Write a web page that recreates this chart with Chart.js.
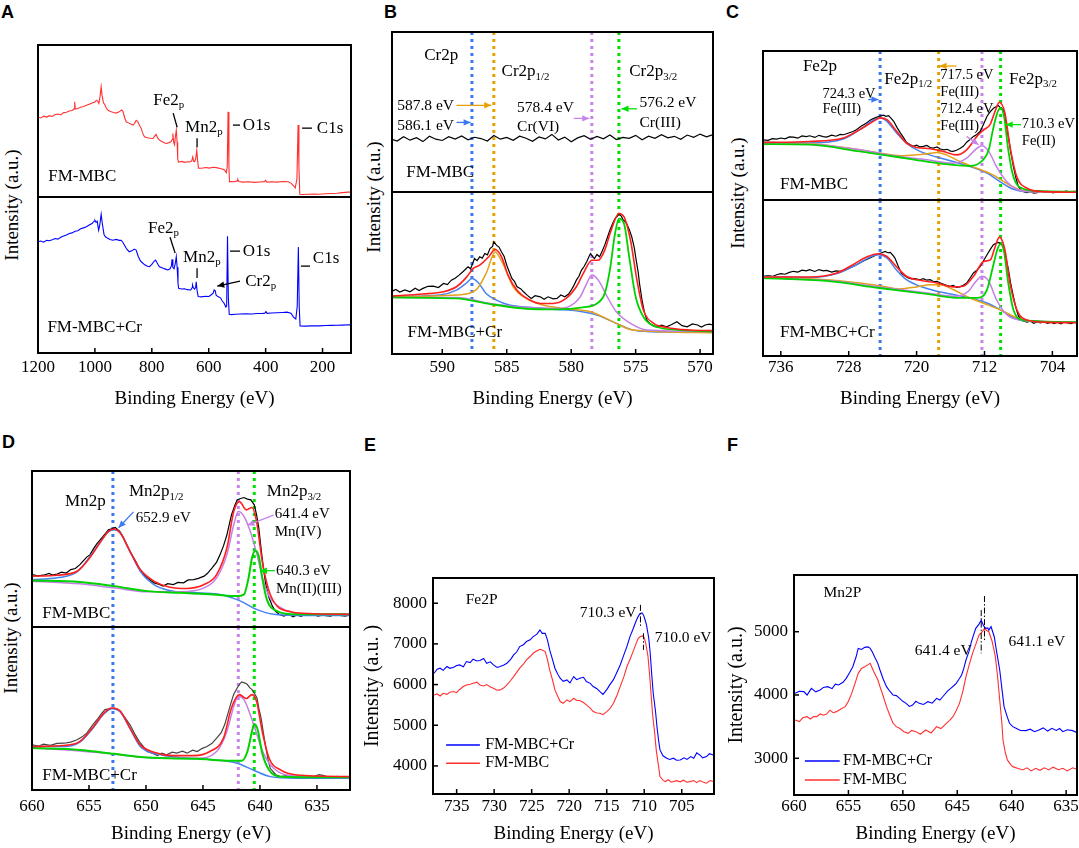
<!DOCTYPE html>
<html>
<head>
<meta charset="utf-8">
<title>XPS spectra FM-MBC</title>
<script src="https://cdn.jsdelivr.net/npm/chart.js@4.4.1/dist/chart.umd.min.js"></script>
<style>
  body { margin: 0; background: #fff; }
  #fig { position: relative; width: 1079px; height: 848px; overflow: hidden; }
  #fig canvas { position: absolute; }
  .tag { position: absolute; font: bold 18px "Liberation Sans", Arial, sans-serif; line-height: 1; }
  .ytitle { position: absolute; font: 19px "Liberation Serif", serif; line-height: 1.15; white-space: nowrap;
            transform: translate(-50%, -50%) rotate(-90deg); }
</style>
</head>
<body>
<div id="fig">
  <div class="tag" style="left:1px;top:3px">A</div>
  <div class="tag" style="left:384px;top:3px">B</div>
  <div class="tag" style="left:726px;top:3px">C</div>
  <div class="tag" style="left:2px;top:433px">D</div>
  <div class="tag" style="left:364px;top:436px">E</div>
  <div class="tag" style="left:727px;top:436px">F</div>
  <div class="ytitle" style="left:12px;top:205px">Intensity (a.u.)</div>
  <div class="ytitle" style="left:374px;top:197px">Intensity (a.u.)</div>
  <div class="ytitle" style="left:738px;top:193px">Intensity (a.u.)</div>
  <div class="ytitle" style="left:11px;top:638px">Intensity (a.u.)</div>
</div>
<script>
// ---- tick labels ----
const ticksA = [1200, 1000, 800, 600, 400, 200];
const ticksB = [590, 585, 580, 575, 570];
const ticksC = [736, 728, 720, 712, 704];
const ticksD = [660, 655, 650, 645, 640, 635];
const ticksEx = [735, 730, 725, 720, 715, 710, 705];
const ticksEy = [4000, 5000, 6000, 7000, 8000];
const ticksFx = [660, 655, 650, 645, 640, 635];
const ticksFy = [3000, 4000, 5000];

// ---- fitted peak positions (eV) ----
const peaksB = [587.7, 586.0, 578.4, 576.3];
const peaksC = [724.3, 717.4, 712.3, 710.1];
const peaksD = [652.9, 641.9, 640.5];

// ---- A: survey spectra, [binding energy, intensity a.u.] ----
const surveyMBC = [[1200,52.7],[1190,52.0],[1180,53.2],[1170,52.6],[1160,53.5],[1150,53.0],[1140,54.2],[1130,54.6],[1120,54.0],[1110,55.5],[1100,55.8],[1090,56.6],[1080,56.9],[1073,58.0],[1071,62.6],[1069,57.8],[1060,58.2],[1050,59.0],[1040,59.6],[1030,60.4],[1020,61.0],[1010,61.8],[1000,62.5],[995,63.7],[990,63.0],[986,61.5],[982,66],[978,72.5],[975,67],[970,62],[966,61.0],[960,58.5],[954,57],[945,56.2],[935,55.6],[925,55.2],[915,56.0],[906,57.2],[902,56.5],[895,52],[890,49.5],[880,48.6],[872,47.8],[866,47.3],[860,48.5],[855,50.5],[850,49.8],[843,47],[837,45],[832,42],[826,39.6],[815,39],[805,38.6],[796,38.5],[790,40],[785,41.2],[780,39],[773,37.4],[765,36.5],[758,35.8],[750,35.2],[742,35.6],[733,36.3],[728,38],[726,41.8],[723,36],[720,34.5],[717,40],[714,44],[711,36],[709,25],[706,23],[695,23.4],[685,22.8],[675,23.2],[668,23],[660,23.6],[656,26.4],[653,23.5],[650,23.2],[646,25],[642,30.8],[639,24],[636,19],[625,18.9],[610,19.4],[598,19],[585,19.6],[573,19.3],[560,18.8],[550,18.2],[544,17.6],[538,16],[535,20],[532,56],[529,20],[527,10.0],[520,10.2],[510,10.0],[500,10.6],[498,11.6],[494,10.2],[480,9.8],[460,10.0],[440,9.6],[420,9.9],[405,10.1],[400,10.9],[396,9.8],[380,10.0],[360,9.8],[340,10.2],[320,10.0],[310,9.0],[302,7.4],[296,6.0],[290,12],[286,47.3],[283,20],[280,1.8],[270,1.6],[250,1.8],[230,1.9],[212,1.8],[190,2.1],[170,2.3],[150,2.5],[130,2.9],[110,3.2],[98,3.3]];
const surveyMBCCr = [[1200,71.3],[1190,71.8],[1180,71.0],[1170,72.2],[1160,72.0],[1150,72.6],[1140,73.4],[1130,73.0],[1120,74.2],[1110,75.0],[1100,75.6],[1090,76.6],[1080,77.0],[1070,78.0],[1060,78.4],[1050,79.6],[1040,80.2],[1030,80.9],[1020,82],[1010,83],[1003,84.5],[1000,85.1],[996,83.8],[992,84.5],[987,78.7],[983,82],[978,88.9],[974,83],[968,76],[963,74.5],[955,73.5],[947,72.8],[937,72.3],[925,72.8],[915,72.2],[908,72.3],[902,71],[896,69.1],[888,66.5],[879,64.9],[870,65.5],[862,66.6],[855,66.0],[848,62],[840,59],[837,58.5],[825,56.5],[815,55.6],[808,55.3],[800,56.8],[792,58.8],[787,59.6],[782,58],[776,56],[773,55.3],[760,54.3],[750,53.6],[744,53.2],[736,54],[731,56],[729,60],[726,55],[722,54],[718,57],[714,61.7],[711,55],[708,45],[706,41.5],[695,41.0],[685,41.2],[675,40.6],[663,40.4],[658,42],[657,43.6],[654,41.8],[650,41],[646,42],[644,45.7],[641,40],[637,36.2],[625,36.0],[612,36.4],[599,36.2],[590,37.5],[584,38.5],[581,40.4],[577,39.8],[574,37],[569,36.3],[563,35.8],[558,35.2],[553,33.5],[546,31.9],[540,29.5],[537,30],[534,74.9],[531,35],[528,24.8],[520,24.6],[505,24.8],[490,25.0],[470,25.2],[450,25.0],[430,25.3],[410,25.4],[403,25.5],[399,26.6],[395,25.4],[380,25.6],[360,25.8],[340,26.0],[325,26.2],[311,25.5],[302,23],[294,21.8],[289,30],[285,68],[282,30],[279,17.4],[260,17.2],[240,17.4],[212,17.4],[190,17.6],[170,17.7],[150,17.8],[130,17.9],[106,18.1],[98,18]];

// ---- B: Cr2p ----
const cr2pBare = [[594,33.2],[593.5,31.8],[593,34.5],[592.5,32.4],[592,33.9],[591.5,31.5],[591,34.8],[590.5,33.0],[590,32.2],[589.5,34.6],[589,33.1],[588.5,35.0],[588,32.6],[587.5,34.2],[587,33.4],[586.5,31.9],[586,35.3],[585.5,33.0],[585,34.1],[584.5,32.3],[584,34.9],[583.5,33.6],[583,31.7],[582.5,34.4],[582,33.2],[581.5,36.0],[581,32.5],[580.5,34.3],[580,31.4],[579.5,33.8],[579,35.2],[578.5,32.9],[578,34.7],[577.5,33.3],[577,35.6],[576.5,32.8],[576,34.1],[575.5,33.5],[575,35.4],[574.5,32.7],[574,34.9],[573.5,33.6],[573,35.8],[572.5,33.9],[572,34.8],[571.5,32.9],[571,35.6],[570.5,34.2],[570,36.2],[569.5,34.5],[569,35.9]];
const cr2pRaw = [[594.0,38.4],[593.6,39.8],[593.3,38.2],[592.9,39.6],[592.5,38.4],[592.1,40.6],[591.8,39.2],[591.5,40.5],[591.1,41.8],[590.7,41.9],[590.3,41.0],[589.9,43.5],[589.6,42.8],[589.3,45.6],[589.0,46.8],[588.7,48.7],[588.4,50.8],[588.0,53.8],[587.8,52.6],[587.5,58.9],[587.3,57.6],[587.1,60.0],[586.9,59.2],[586.7,62.0],[586.5,61.2],[586.3,65.1],[586.1,66.4],[586.0,69.2],[585.8,67.2],[585.6,66.0],[585.4,63.0],[585.2,60.2],[585.0,54.8],[584.8,50.6],[584.6,46.6],[584.4,44.8],[584.2,41.5],[583.9,40.2],[583.7,38.4],[583.4,36.2],[583.1,34.3],[582.8,36.0],[582.4,35.3],[582.1,33.8],[581.8,35.3],[581.4,34.0],[581.1,34.3],[580.8,36.4],[580.5,35.3],[580.2,37.0],[580.0,39.4],[579.8,42.2],[579.6,45.6],[579.4,48.0],[579.2,51.8],[579.0,54.0],[578.8,56.9],[578.6,60.5],[578.5,62.0],[578.3,59.8],[578.2,58.9],[578.0,61.4],[577.8,60.0],[577.6,63.5],[577.4,67.2],[577.2,71.8],[577.0,76.4],[576.8,80.2],[576.6,83.6],[576.4,85.2],[576.3,86.7],[576.1,85.0],[576.0,83.0],[575.8,81.6],[575.7,80.5],[575.5,76.8],[575.3,72.3],[575.1,65.4],[575.0,60.0],[574.8,50.2],[574.7,43.5],[574.5,33.0],[574.3,25.1],[574.1,20.6],[573.9,18.9],[573.6,17.2],[573.4,16.8],[573.0,17.8],[572.6,16.8],[572.2,18.2],[571.8,19.9],[571.4,17.5],[571.0,16.8],[570.6,18.6],[570.2,17.9],[569.9,16.6],[569.6,17.9],[569.3,18.4],[569.0,17.9]];
const cr2pFit = [[594,35.7],[591.5,37],[589.9,38.4],[588.9,41.5],[588.1,47.6],[587.6,52.8],[587.1,54.8],[586.4,60],[585.9,64.5],[585.4,60],[584.9,48.7],[584.2,39.4],[583.2,33.3],[582.4,31.2],[581.4,31.2],[580.4,34.3],[579.6,41.5],[579.0,50.7],[578.4,57.9],[577.9,57.9],[577.4,64.1],[576.9,76.4],[576.3,86.7],[575.9,84.6],[575.4,70.2],[574.9,45.6],[574.4,27.1],[573.6,18.9],[572.6,16.4],[570.8,14.8],[569.0,14.4]];
const cr2pBlue = [[594,35.3],[590.2,36.4],[588.9,39.4],[588.1,44],[587.7,46.6],[587.2,44],[586.6,37.4],[585.8,33.3],[584.8,30.2],[583.2,28.8],[581.1,27.5],[579.6,26.7],[578.0,24],[576.5,18.9],[575.4,15.2],[573.9,13.8],[569.0,13.6]];
const cr2pOrange = [[594,35.3],[588.9,36.4],[587.4,39.4],[586.6,49.7],[585.9,63],[585.3,55.8],[584.5,41.5],[583.5,34.3],[582.2,30.2],[580.6,28.1],[578.5,26.1],[576.5,18.9],[575.2,14.8],[569,13.1]];
const cr2pPurple = [[594,34.9],[588.9,34.9],[586.3,31.2],[583.7,28.8],[581.1,28.1],[580.1,29.6],[579.3,35.3],[578.8,43.5],[578.4,48.7],[577.9,45.6],[577.2,35.3],[576.5,26.1],[575.4,18.9],[574.1,14.8],[569,13.8]];
const cr2pGreen = [[594,34.9],[588.9,34.3],[586.3,30.8],[583.7,28.1],[581.1,27.5],[579.1,28.8],[578.0,31.2],[577.4,37.4],[577.0,51.8],[576.6,74.3],[576.3,83.6],[575.9,80.5],[575.5,60],[575.0,35.3],[574.4,23],[573.4,16.8],[571.5,14.8],[569,13.8]];

// ---- C: Fe2p (FM-MBC top, FM-MBC+Cr bottom) ----
const fe2pRawMBC = [[738.1,40.4],[737.5,40.0],[737.0,41.2],[736.5,40.9],[736.0,41.6],[735.5,41.0],[735.0,42.3],[734.5,42.2],[734.0,41.5],[733.5,43.0],[733.0,42.6],[732.6,43.1],[732.0,42.0],[731.5,43.4],[731.0,42.5],[730.6,42.2],[730.0,43.5],[729.5,42.8],[729.0,44.0],[728.6,43.8],[728.0,45.0],[727.5,46.0],[727.1,47.2],[726.5,49.6],[725.9,51.7],[725.4,53.8],[724.9,55.1],[724.4,56.2],[723.9,56.9],[723.6,56.2],[723.3,56.6],[723.0,54.8],[722.7,52.8],[722.3,48.6],[721.9,44.9],[721.5,41.5],[721.2,38.7],[720.8,37.2],[720.4,36.0],[720.0,36.8],[719.6,35.6],[719.2,36.0],[718.8,36.6],[718.4,35.2],[718.0,34.8],[717.6,35.6],[717.2,34.2],[716.8,33.7],[716.4,34.0],[716.0,32.8],[715.7,32.6],[715.3,33.4],[714.9,34.6],[714.5,36.0],[714.1,38.8],[713.7,40.6],[713.3,42.7],[712.9,44.0],[712.5,46.1],[712.1,51.0],[711.7,56.2],[711.3,59.4],[710.9,61.8],[710.6,62.8],[710.4,63.4],[710.1,62.0],[709.8,60.7],[709.5,53.0],[709.2,42.7],[708.9,32.0],[708.6,22.5],[708.3,14.8],[708.0,9.0],[707.7,6.6],[707.4,5.6],[707.0,5.0],[706.6,5.8],[706.2,4.6],[705.8,4.9],[705.4,5.9],[705.0,5.2],[704.6,5.8],[704.3,5.6],[703.9,4.8],[703.5,5.7],[703.1,5.3],[702.7,5.6],[702.3,6.0],[701.9,5.2],[701.5,5.8],[701.1,5.6]];
const fe2pFitMBC = [[738.1,38.7],[732.6,39.3],[728.65,41.6],[726.7,47.2],[725.1,52.8],[724.3,55.1],[723.5,53.9],[722.35,46.1],[721.2,38.2],[720.0,35.3],[718.4,34.4],[716.85,32.6],[715.3,30.3],[714.1,33.7],[712.9,42.7],[712.05,47.2],[711.35,50.6],[710.75,59.6],[710.25,65.6],[709.6,58.4],[709.0,36.0],[708.2,15.7],[707.0,7.9],[705.05,5.6],[701.1,5.2]];
const fe2pBlueMBC = [[738.1,38.7],[732.6,38.2],[728.65,40.9],[726.7,47.2],[725.1,53.5],[724.3,55.1],[723.5,52.8],[722.35,44.9],[721.2,38.2],[719.6,32.6],[717.6,28.8],[715.7,25.8],[713.7,22.5],[711.7,18.0],[710.2,12.4],[708.6,7.2],[707.0,5.6],[701.1,5.6]];
const fe2pOrangeMBC = [[738.1,38.2],[732.6,37.8],[726.7,33.7],[724.3,31.5],[721.9,29.7],[720.0,30.3],[718.8,31.0],[717.6,31.9],[716.5,30.3],[714.9,25.8],[712.9,21.3],[711.0,16.9],[709.4,11.2],[707.8,6.7],[706.2,5.6],[701.1,5.6]];
const fe2pPurpleMBC = [[738.1,37.8],[732.6,37.5],[726.7,33.7],[722.7,29.7],[718.8,27.0],[715.7,24.7],[714.1,28.1],[713.1,33.7],[712.3,36.4],[711.5,32.6],[710.6,22.5],[709.4,12.4],[708.2,7.2],[706.2,5.6],[701.1,5.6]];
const fe2pGreenMBC = [[738.1,37.5],[732.6,37.1],[726.7,32.6],[722.7,29.2],[718.8,25.8],[715.7,23.6],[713.7,22.9],[712.5,25.2],[711.5,33.7],[711.0,47.2],[710.5,58.4],[710.1,61.8],[709.7,56.2],[709.2,33.7],[708.6,15.7],[707.6,7.9],[705.8,6.1],[701.1,5.6]];

const fe2pRawCr = [[738.1,51.1],[737.5,51.6],[737.0,51.0],[736.5,52.1],[736.0,52.8],[735.5,52.4],[735.0,53.6],[734.5,54.3],[734.0,53.8],[733.5,55.0],[733.0,54.6],[732.6,55.3],[732.0,54.2],[731.5,55.4],[731.0,54.6],[730.6,54.9],[730.0,53.8],[729.5,54.6],[729.0,54.3],[728.4,55.2],[727.9,56.4],[727.3,57.8],[726.7,59.6],[726.1,61.4],[725.5,62.8],[725.0,64.2],[724.5,65.5],[724.1,66.2],[723.7,67.0],[723.4,66.2],[723.1,66.4],[722.8,64.6],[722.55,62.8],[722.2,58.0],[721.8,53.2],[721.4,51.4],[721.0,50.0],[720.6,49.4],[720.2,49.6],[719.6,48.9],[719.2,49.6],[718.8,48.6],[718.4,48.9],[718.0,47.6],[717.6,47.9],[717.2,46.8],[716.8,46.0],[716.4,45.2],[716.06,44.7],[715.7,45.2],[715.3,44.0],[714.9,44.3],[714.5,45.4],[714.1,46.8],[713.7,50.0],[713.3,53.2],[712.9,55.0],[712.5,57.4],[712.1,61.2],[711.7,64.9],[711.3,68.5],[710.95,71.3],[710.6,72.4],[710.36,72.8],[710.0,71.6],[709.77,70.2],[709.5,63.5],[709.18,55.3],[708.9,46.0],[708.6,38.3],[708.3,31.0],[708.0,25.5],[707.5,22.6],[707.0,21.7],[706.6,22.4],[706.2,21.0],[705.8,21.9],[705.4,21.2],[705.0,22.2],[704.6,21.0],[704.2,21.6],[703.8,20.8],[703.4,21.6],[703.0,20.6],[702.6,21.8],[702.2,21.2],[701.8,20.8],[701.4,21.6],[701.1,21.3]];
const fe2pFitCr = [[738.1,50.6],[732.6,50.6],[729.4,53.2],[727.5,58.5],[725.9,63.4],[724.5,65.5],[723.5,63.8],[722.4,57.4],[721.2,51.1],[719.6,48.5],[717.6,46.8],[715.7,44.3],[714.5,44.7],[713.3,51.1],[712.1,60.6],[711.3,61.7],[710.8,69.1],[710.25,76.2],[709.6,68.1],[709.0,46.8],[708.2,29.8],[707.0,23.0],[705.1,21.7],[701.1,21.3]];
const fe2pBlueCr = [[738.1,51.1],[732.6,50.2],[729.4,52.8],[727.1,58.5],[725.5,63.4],[724.5,64.9],[723.5,62.8],[722.4,55.3],[721.2,48.9],[719.6,44.7],[717.6,41.5],[715.7,39.4],[713.7,37.2],[711.7,34.0],[710.2,29.8],[708.6,24.5],[707.0,22.3],[701.1,21.7]];
const fe2pOrangeCr = [[738.1,50.6],[730.6,48.9],[726.7,46.8],[724.4,45.1],[722.0,43.0],[720.0,44.3],[718.4,45.7],[717.2,45.7],[715.7,42.6],[713.7,37.2],[711.7,33.0],[709.8,28.7],[708.2,24.5],[706.6,22.3],[701.1,21.7]];
const fe2pPurpleCr = [[738.1,50.2],[730.6,48.5],[724.4,44.3],[718.8,40.4],[715.3,38.3],[713.9,41.5],[713.0,47.9],[712.3,51.1],[711.5,47.9],[710.6,36.2],[709.4,26.6],[707.8,23.0],[701.1,21.7]];
const fe2pGreenCr = [[738.1,50.0],[730.6,48.1],[724.4,43.6],[718.8,39.8],[714.9,37.2],[712.9,37.2],[711.7,42.6],[711.0,57.4],[710.5,68.1],[710.1,71.9],[709.7,67.0],[709.2,46.8],[708.6,29.8],[707.4,23.0],[701.1,21.7]];

// ---- D: Mn2p ----
const mn2pRawMBC = [[660,33.6],[659.5,32.8],[659,33.2],[658.5,34.4],[658.2,33.3],[657.8,34.0],[657.4,35.2],[657.0,34.6],[656.6,36.8],[656.2,37.5],[655.8,40.0],[655.5,42.4],[655.2,44.8],[654.9,46.4],[654.6,50.2],[654.3,53.4],[654.0,56.0],[653.6,59.6],[653.3,62.3],[653.0,62.9],[652.7,63.8],[652.5,62.6],[652.3,61.3],[652.0,57.6],[651.7,52.8],[651.3,47.0],[650.9,42.1],[650.6,37.8],[650.2,33.6],[649.8,31.0],[649.3,28.3],[648.9,27.4],[648.5,26.2],[648.1,27.8],[647.6,27.2],[647.2,28.6],[646.7,28.3],[646.3,30.2],[645.8,30.4],[645.4,31.2],[644.9,32.6],[644.6,34.4],[644.2,37.9],[643.8,41.6],[643.5,46.4],[643.2,52.0],[642.9,59.1],[642.7,65.4],[642.5,71.9],[642.2,78.0],[642.0,81.5],[641.7,82.4],[641.4,83.0],[641.1,82.0],[640.8,81.5],[640.5,78.3],[640.3,72.0],[640.1,63.4],[639.9,50.0],[639.7,37.9],[639.5,27.6],[639.2,18.7],[638.9,13.2],[638.65,10.2],[638.3,8.0],[637.9,7.0],[637.5,8.4],[637.1,6.6],[636.75,7.7],[636.4,6.8],[636.0,8.2],[635.6,7.4],[635.3,8.1],[634.9,6.9],[634.5,7.8],[634.2,7.2],[633.8,7.0],[633.4,8.4],[633.0,7.4],[632.5,7.0],[632.1,8.1]];
const mn2pFitMBC = [[660,32.6],[657.8,33.2],[656.05,35.7],[654.9,44.7],[654.0,54.5],[653.3,61.3],[652.8,62.8],[652.25,60.2],[651.4,48.5],[650.5,36.8],[649.3,29.4],[647.9,25.5],[646.4,24.7],[644.9,27.2],[643.8,33.6],[642.9,50.6],[642.3,74.0],[641.8,80.4],[641.2,75.1],[640.7,76.6],[640.3,67.7],[639.8,42.1],[639.2,23.0],[638.5,13.4],[637.3,9.8],[635.3,8.5],[632.1,8.1]];
const mn2pBlueMBC = [[660,30.4],[657.8,31.5],[656.05,35.3],[654.9,45.3],[654.0,54.5],[653.3,60.9],[652.8,62.3],[652.25,60.2],[651.4,48.5],[650.5,35.7],[649.3,27.2],[647.9,23.4],[645.5,21.9],[643.2,20.4],[641.7,16.6],[640.3,11.3],[638.8,8.1],[636.75,7.4],[632.1,7.4]];
const mn2pPurpleMBC = [[660,29.4],[655.8,27.7],[652.8,25.1],[649.9,22.6],[647.0,22.6],[644.9,25.1],[643.8,31.5],[642.9,46.4],[642.3,65.5],[641.9,74.0],[641.4,70.9],[640.85,61.3],[640.26,46.4],[639.7,29.4],[639.1,18.7],[637.9,11.3],[636.2,8.5],[632.1,8.1]];
const mn2pGreenMBC = [[660,29.8],[655.8,28.9],[652.8,26.2],[649.9,23.0],[647.0,21.9],[644.1,20.9],[642.0,19.8],[641.4,20.9],[641.0,31.5],[640.7,44.3],[640.4,48.9],[640.1,45.3],[639.8,31.5],[639.4,17.7],[638.5,10.2],[636.75,8.1],[632.1,8.1]];

const mn2pRawCr = [[660,27.7],[659.4,27.0],[659.0,28.1],[658.4,27.4],[657.8,28.6],[657.2,28.7],[656.6,29.4],[656.05,30.8],[655.6,32.6],[655.2,34.9],[654.7,39.6],[654.3,43.1],[653.9,46.8],[653.6,49.3],[653.2,49.8],[652.8,50.3],[652.5,49.6],[652.25,48.3],[651.8,44.0],[651.4,40.0],[651.0,34.6],[650.6,29.8],[650.2,26.4],[649.9,23.6],[649.4,22.4],[649.0,21.1],[648.6,22.6],[648.2,21.6],[647.7,23.2],[647.3,22.6],[646.8,23.8],[646.4,22.6],[645.9,24.4],[645.5,23.6],[645.1,25.4],[644.65,26.7],[644.2,28.6],[643.8,31.8],[643.4,35.2],[643.1,40.0],[642.8,47.2],[642.5,54.4],[642.3,58.8],[642.0,62.6],[641.8,64.8],[641.6,66.3],[641.3,65.6],[641.1,64.7],[640.9,62.8],[640.7,61.6],[640.5,59.4],[640.26,56.5],[640.1,50.2],[639.9,44.1],[639.7,35.0],[639.5,26.7],[639.3,19.0],[639.1,13.3],[638.6,9.4],[638.2,8.2],[637.6,9.0],[637.0,7.6],[636.4,8.4],[635.8,7.6],[635.3,8.2],[634.8,9.4],[634.4,8.8],[633.8,7.4],[633.2,8.4],[632.6,7.6],[632.1,7.8]];
const mn2pFitCr = [[660,26.7],[657.2,27.3],[655.8,29.8],[654.6,39.0],[653.7,47.2],[653.0,50.3],[652.25,48.3],[651.4,38.0],[650.5,27.7],[649.3,23.2],[647.6,21.1],[645.8,21.1],[644.4,23.6],[643.2,31.8],[642.5,50.3],[641.8,58.5],[641.2,56.1],[640.7,58.5],[640.3,54.4],[639.8,35.9],[639.2,19.5],[638.2,12.3],[636.75,9.2],[632.1,8.2]];
const mn2pBlueCr = [[660,26.7],[657.2,26.7],[655.8,29.4],[654.6,38.4],[653.7,46.6],[653.0,49.9],[652.25,47.8],[651.4,37.6],[650.5,26.7],[649.0,22.0],[647.0,19.9],[644.1,18.5],[642.0,16.4],[640.6,12.3],[639.1,8.2],[636.75,7.2],[632.1,7.2]];
const mn2pPurpleCr = [[660,25.7],[655.8,24.0],[652.8,22.0],[649.9,19.9],[645.5,19.5],[643.8,23.6],[642.9,35.9],[642.3,51.3],[641.9,57.5],[641.4,55.4],[640.85,46.2],[640.26,33.9],[639.7,22.6],[638.8,13.3],[637.3,8.8],[632.1,7.8]];
const mn2pGreenCr = [[660,25.7],[655.8,24.6],[652.8,22.2],[649.9,19.9],[645.5,19.1],[642.6,17.9],[641.6,17.9],[641.1,23.6],[640.7,35.9],[640.5,40.5],[640.2,37.0],[639.8,22.6],[639.2,12.3],[638.2,8.2],[632.1,7.8]];

// ---- E: Fe2p comparison (counts) ----
const fe2pCmpCr = [[738.0,6279],[737.6,6380],[737.2,6402],[736.8,6350],[736.3,6443],[735.9,6400],[735.4,6426],[735.0,6470],[734.6,6484],[734.1,6440],[733.7,6566],[733.2,6540],[732.8,6623],[732.3,6580],[731.9,6590],[731.4,6640],[731.0,6525],[730.5,6560],[730.1,6484],[729.6,6420],[729.2,6443],[728.7,6480],[728.3,6525],[727.8,6620],[727.4,6730],[727.0,6800],[726.6,6934],[726.1,6980],[725.7,7057],[725.2,7100],[724.8,7180],[724.3,7240],[723.9,7344],[723.6,7260],[723.2,7262],[722.9,7100],[722.6,6852],[722.2,6600],[721.9,6402],[721.5,6250],[721.2,6156],[720.8,6080],[720.3,6115],[719.9,6040],[719.4,6197],[719.0,6120],[718.6,6156],[718.1,6180],[717.7,6074],[717.2,6030],[716.8,5951],[716.3,5900],[715.9,5828],[715.5,5760],[715.2,5828],[714.9,5900],[714.6,5992],[714.1,6120],[713.7,6279],[713.2,6480],[712.8,6688],[712.3,6940],[711.9,7180],[711.5,7360],[711.2,7508],[710.9,7640],[710.6,7738],[710.3,7760],[710.1,7713],[709.9,7600],[709.7,7467],[709.4,7150],[709.2,6770],[709.0,6250],[708.8,5787],[708.5,5350],[708.3,4967],[708.1,4650],[707.9,4393],[707.5,4250],[707.0,4188],[706.6,4160],[706.1,4190],[705.7,4140],[705.2,4147],[704.7,4200],[704.3,4160],[703.8,4230],[703.4,4188],[703.0,4320],[702.6,4270],[702.2,4200],[701.7,4229],[701.3,4300],[700.8,4270]];
const fe2pCmpMBC = [[738.0,5746],[737.6,5770],[737.2,5720],[736.8,5787],[736.3,5760],[735.9,5810],[735.4,5828],[735.0,5800],[734.6,5880],[734.1,5951],[733.7,5990],[733.2,6010],[732.8,6033],[732.3,6060],[731.9,5990],[731.4,5967],[731.0,6000],[730.5,5940],[730.1,5910],[729.6,5860],[729.2,5869],[728.7,5920],[728.3,5992],[727.8,6100],[727.4,6197],[727.0,6300],[726.6,6402],[726.1,6500],[725.7,6607],[725.2,6690],[724.8,6770],[724.3,6830],[723.9,6869],[723.6,6850],[723.2,6811],[722.9,6620],[722.6,6361],[722.2,6100],[721.9,5869],[721.5,5700],[721.2,5582],[720.8,5540],[720.3,5623],[719.9,5580],[719.4,5664],[719.0,5610],[718.6,5607],[718.1,5560],[717.7,5500],[717.2,5420],[716.8,5336],[716.3,5300],[715.9,5295],[715.5,5260],[715.0,5336],[714.6,5400],[714.1,5541],[713.6,5750],[713.2,5951],[712.7,6200],[712.3,6443],[711.8,6660],[711.4,6852],[711.1,7000],[710.8,7139],[710.5,7180],[710.2,7197],[710.0,7150],[709.8,7016],[709.5,6700],[709.3,6279],[709.1,5800],[708.9,5295],[708.6,4800],[708.4,4393],[708.1,4000],[707.9,3738],[707.5,3650],[707.2,3615],[706.8,3660],[706.4,3600],[705.7,3639],[705.2,3610],[704.8,3650],[704.3,3600],[703.9,3615],[703.4,3640],[703.0,3590],[702.6,3639],[702.1,3600],[701.7,3574],[701.2,3640],[700.8,3615]];

// ---- F: Mn2p comparison (counts) ----
const mn2pCmpCr = [[659.9,4026],[659.5,4060],[659.1,4053],[658.8,4000],[658.4,4105],[658.0,4050],[657.6,4079],[657.3,4120],[656.9,4132],[656.5,4100],[656.2,4170],[655.9,4158],[655.5,4200],[655.2,4263],[654.9,4350],[654.6,4447],[654.3,4600],[654.1,4737],[653.8,4720],[653.5,4753],[653.2,4760],[653.0,4737],[652.8,4680],[652.6,4605],[652.3,4500],[652.1,4395],[651.8,4250],[651.5,4132],[651.2,4060],[650.9,4000],[650.6,3990],[650.3,3947],[650.0,3900],[649.7,3868],[649.4,3820],[649.1,3842],[648.8,3900],[648.5,3868],[648.1,3850],[647.7,3895],[647.3,3870],[646.9,3947],[646.6,3920],[646.2,4000],[645.9,4060],[645.6,4105],[645.3,4150],[645.1,4184],[644.8,4260],[644.6,4316],[644.4,4420],[644.2,4553],[643.9,4700],[643.7,4842],[643.5,4950],[643.3,5053],[643.0,5120],[642.8,5184],[642.6,5100],[642.4,5053],[642.2,5060],[642.1,5026],[641.9,5080],[641.6,4921],[641.4,4700],[641.1,4395],[640.9,4100],[640.7,3816],[640.4,3650],[640.2,3553],[639.9,3500],[639.6,3474],[639.2,3440],[638.7,3437],[638.3,3460],[637.9,3420],[637.5,3447],[637.1,3480],[636.7,3430],[636.3,3474],[635.9,3440],[635.6,3470],[635.3,3421],[634.9,3450],[634.4,3437],[634.0,3405]];
const mn2pCmpMBC = [[659.9,3605],[659.5,3580],[659.2,3640],[658.8,3658],[658.5,3620],[658.2,3660],[657.9,3658],[657.6,3700],[657.3,3680],[657.0,3700],[656.7,3760],[656.4,3720],[656.1,3737],[655.7,3780],[655.3,3816],[655.0,3900],[654.7,4026],[654.4,4180],[654.1,4342],[653.8,4420],[653.5,4447],[653.2,4480],[653.0,4500],[652.8,4420],[652.6,4342],[652.3,4240],[652.1,4132],[651.8,3980],[651.5,3816],[651.2,3680],[650.9,3553],[650.6,3500],[650.3,3474],[649.9,3420],[649.5,3395],[649.2,3440],[648.8,3421],[648.4,3380],[647.9,3447],[647.4,3400],[646.9,3500],[646.5,3470],[646.0,3553],[645.7,3600],[645.4,3658],[645.1,3750],[644.8,3868],[644.5,4050],[644.2,4290],[643.9,4480],[643.6,4658],[643.3,4800],[643.0,4947],[642.7,5000],[642.5,5053],[642.3,5020],[642.1,5000],[641.8,4850],[641.5,4605],[641.3,4300],[641.1,3921],[640.9,3550],[640.8,3289],[640.6,3100],[640.4,2974],[640.1,2900],[639.9,2868],[639.4,2840],[639.0,2816],[638.6,2850],[638.2,2800],[637.8,2842],[637.4,2810],[637.0,2850],[636.6,2816],[636.2,2860],[635.7,2820],[635.3,2842],[634.9,2800],[634.4,2850],[634.0,2826]];

// ---- colours ----
const RED = '#ff1f1f', BLUE = '#4682f0', ORANGE = '#e3a01a', PURPLE = '#c47fe6', GREEN = '#00d200';
const DOT_BLUE = '#3c78f0', DOT_ORANGE = '#e8a000', DOT_PURPLE = '#c884e8', DOT_GREEN = '#00e000';
const SERIF = '"Liberation Serif", "Times New Roman", serif';
const fig = document.getElementById('fig');

function pts(a) { return a.map(p => ({x: p[0], y: p[1]})); }
function curve(a, color, w, smooth) {
  return {data: pts(a), borderColor: color, borderWidth: w, pointRadius: 0, fill: false,
          tension: 0, cubicInterpolationMode: smooth ? 'monotone' : 'default'};
}

// text with _{...} subscripts
function richText(ctx, s, x, y, size, color) {
  const parts = s.split(/(_\{[^}]*\})/).filter(Boolean).map(p =>
    p.startsWith('_{') ? {t: p.slice(2, -1), sub: true} : {t: p, sub: false});
  ctx.fillStyle = color || '#000';
  ctx.textBaseline = 'middle';
  ctx.textAlign = 'left';
  let cx = x;
  parts.forEach(p => {
    const fs = p.sub ? size * 0.64 : size;
    ctx.font = fs + 'px ' + SERIF;
    ctx.fillText(p.t, cx, p.sub ? y + size * 0.3 : y);
    cx += ctx.measureText(p.t).width;
  });
}

function arrowHead(ctx, x1, y1, x2, y2, color) {
  const a = Math.atan2(y2 - y1, x2 - x1), L = 7, W = 3.2;
  ctx.beginPath();
  ctx.moveTo(x2, y2);
  ctx.lineTo(x2 - L * Math.cos(a) + W * Math.sin(a), y2 - L * Math.sin(a) - W * Math.cos(a));
  ctx.lineTo(x2 - L * Math.cos(a) - W * Math.sin(a), y2 - L * Math.sin(a) + W * Math.cos(a));
  ctx.closePath();
  ctx.fillStyle = color;
  ctx.fill();
}

function deco(cfg) {
  return {
    id: 'deco',
    beforeDatasetsDraw(chart) {
      const {ctx, chartArea: a, scales: {x}} = chart;
      ctx.save();
      ctx.lineWidth = 3;
      ctx.setLineDash([3, 4]);
      (cfg.vlines || []).forEach(v => {
        const px = x.getPixelForValue(v[0]);
        ctx.strokeStyle = v[1];
        ctx.beginPath(); ctx.moveTo(px, a.top); ctx.lineTo(px, a.bottom); ctx.stroke();
      });
      ctx.restore();
    },
    afterDatasetsDraw(chart) {
      const {ctx, chartArea: a, scales: {x, y}} = chart;
      const X = v => x.getPixelForValue(v), Y = v => y.getPixelForValue(v);
      ctx.save();
      ctx.strokeStyle = '#000';
      ctx.lineWidth = 1.5;
      if (cfg.showX) cfg.xTicks.forEach(v => {
        ctx.beginPath(); ctx.moveTo(X(v), a.bottom); ctx.lineTo(X(v), a.bottom - 5); ctx.stroke();
      });
      if (cfg.showY) cfg.yTicks.forEach(v => {
        ctx.beginPath(); ctx.moveTo(a.left, Y(v)); ctx.lineTo(a.left + 5, Y(v)); ctx.stroke();
      });
      ctx.lineWidth = 2;
      ctx.strokeRect(a.left, a.top, a.right - a.left, a.bottom - a.top);
      (cfg.notes || []).forEach(n => {
        if (n.t === 'text') { richText(ctx, n.s, X(n.x), Y(n.y), n.size || 16, n.c); return; }
        ctx.strokeStyle = n.c || '#000';
        ctx.lineWidth = n.w || 1.3;
        ctx.setLineDash(n.dash || []);
        ctx.beginPath(); ctx.moveTo(X(n.x1), Y(n.y1)); ctx.lineTo(X(n.x2), Y(n.y2)); ctx.stroke();
        ctx.setLineDash([]);
        if (n.t === 'arrow') arrowHead(ctx, X(n.x1), Y(n.y1), X(n.x2), Y(n.y2), n.c || '#000');
      });
      ctx.restore();
    }
  };
}

function makeChart(box, cfg) {
  const side = cfg.showX ? 25 : 3;
  const m = {l: cfg.showY ? cfg.yAxisW : side, r: side, t: 3, b: cfg.showX ? 62 : 3};
  const cv = document.createElement('canvas');
  cv.width = box.r - box.l + m.l + m.r;
  cv.height = box.b - box.t + m.t + m.b;
  cv.style.left = (box.l - m.l) + 'px';
  cv.style.top = (box.t - m.t) + 'px';
  fig.appendChild(cv);
  const tickFont = {family: SERIF, size: 17};
  const yScale = {display: !!cfg.showY, min: cfg.yMin, max: cfg.yMax};
  if (cfg.showY) Object.assign(yScale, {
    afterBuildTicks: s => { s.ticks = cfg.yTicks.map(v => ({value: v})); },
    afterFit: s => { s.width = m.l; s.paddingTop = 0; s.paddingBottom = 0; },
    grid: {display: false, drawTicks: false}, border: {display: false},
    ticks: {color: '#000', font: tickFont, padding: 6, callback: v => String(v)},
    title: {display: true, text: cfg.yTitle, color: '#000', font: {family: SERIF, size: 20},
            padding: {top: cfg.yTitleX - (box.l - m.l) - 12, bottom: 0}}
  });
  const xScale = {type: 'linear', reverse: true, min: cfg.xMin, max: cfg.xMax, display: !!cfg.showX};
  if (cfg.showX) Object.assign(xScale, {
    afterBuildTicks: s => { s.ticks = cfg.xTicks.map(v => ({value: v})); },
    afterFit: s => { s.height = m.b; s.paddingLeft = 0; s.paddingRight = 0; },
    grid: {display: false, drawTicks: false}, border: {display: false},
    ticks: {autoSkip: false, maxRotation: 0, color: '#000', font: tickFont,
            padding: cfg.tickY - box.b - 10.2, callback: v => String(v)},
    title: {display: true, text: 'Binding Energy (eV)', color: '#000', font: {family: SERIF, size: 19},
            padding: {top: 0, bottom: m.b - (cfg.titleY - box.b) - 11.4}}
  });
  new Chart(cv, {
    type: 'line',
    data: {datasets: cfg.datasets},
    options: {
      responsive: false, animation: false, events: [],
      layout: {padding: {left: cfg.showY ? 0 : m.l, right: m.r, top: m.t, bottom: cfg.showX ? 0 : m.b}},
      plugins: {legend: {display: false}, tooltip: {enabled: false}},
      scales: {x: xScale, y: yScale}
    },
    plugins: [deco(cfg)]
  });
}

const T = (x, y, s, size, c) => ({t: 'text', x, y, s, size, c});
const L = (x1, y1, x2, y2, c, dash, w) => ({t: 'line', x1, y1, x2, y2, c, dash, w});
const AR = (x1, y1, x2, y2, c) => ({t: 'arrow', x1, y1, x2, y2, c});

// ---------- A ----------
const rangeA = {xMin: 100, xMax: 1200, xTicks: ticksA, yMin: 0, yMax: 100};
makeChart({l: 38, r: 351, t: 45, b: 197}, Object.assign({}, rangeA, {
  datasets: [curve(surveyMBC, '#ff3030', 1.1)],
  notes: [T(795, 63.7, 'Fe2_{p}', 17), L(725, 55.2, 711, 45.9),
          T(683, 45.9, 'Mn2_{p}', 17), L(641, 38.7, 641, 32.8),
          L(515, 47.3, 490, 47.3), T(480, 47.3, 'O1s', 17),
          L(272, 45.3, 237, 45.3), T(220, 45.3, 'C1s', 17),
          T(1164, 13.6, 'FM-MBC', 17)]
}));
makeChart({l: 38, r: 351, t: 197, b: 353}, Object.assign({}, rangeA, {
  showX: true, tickY: 368, titleY: 399,
  datasets: [curve(surveyMBCCr, '#0000ff', 1.1)],
  notes: [T(813, 80, 'Fe2_{p}', 17), L(736, 74.2, 718, 64),
          T(690, 61.4, 'Mn2_{p}', 17), L(641, 54.4, 641, 48),
          L(525, 65.3, 490, 65.3), T(480, 65.3, 'O1s', 17),
          T(472, 46.1, 'Cr2_{p}', 17), AR(490, 46.1, 570, 42.9, '#000'),
          L(276, 55.7, 244, 55.7), T(234, 60.8, 'C1s', 17),
          T(1167, 16.6, 'FM-MBC+Cr', 17)]
}));

// ---------- B ----------
const vB = [[peaksB[0], DOT_BLUE], [peaksB[1], DOT_ORANGE], [peaksB[2], DOT_PURPLE], [peaksB[3], DOT_GREEN]];
const rangeB = {xMin: 569.0, xMax: 593.9, xTicks: ticksB, yMin: 0, yMax: 100, vlines: vB};
makeChart({l: 392, r: 713, t: 32, b: 192}, Object.assign({}, rangeB, {
  datasets: [curve(cr2pBare, '#000', 1.2)],
  notes: [T(591.4, 85.6, 'Cr2p', 17), T(585.4, 75.2, 'Cr2p_{1/2}', 17), T(575.5, 75.2, 'Cr2p_{3/2}', 17),
          T(593.5, 53.75, '587.8 eV', 15.5), AR(588.9, 54.2, 586.2, 54.2, DOT_ORANGE),
          T(593.5, 41.25, '586.1 eV', 15.5), AR(588.9, 43.5, 587.8, 43.5, DOT_BLUE),
          T(584.2, 52.3, '578.4 eV', 15.5), T(584.2, 40.8, 'Cr(VI)', 15.5), AR(579.8, 46, 578.6, 46, DOT_PURPLE),
          T(574.7, 55.4, '576.2 eV', 15.5), T(574.7, 43.3, 'Cr(III)', 15.5), AR(574.9, 52, 576.1, 52, DOT_GREEN),
          T(592.8, 12, 'FM-MBC', 17)]
}));
makeChart({l: 392, r: 713, t: 192, b: 354}, Object.assign({}, rangeB, {
  showX: true, tickY: 368, titleY: 399,
  datasets: [curve(cr2pFit, RED, 1.6, true), curve(cr2pGreen, GREEN, 1.8, true), curve(cr2pPurple, PURPLE, 1.5, true),
             curve(cr2pOrange, ORANGE, 1.5, true), curve(cr2pBlue, BLUE, 1.5, true), curve(cr2pRaw, '#000', 1.2)],
  notes: [T(592.7, 13.1, 'FM-MBC+Cr', 17)]
}));

// ---------- C ----------
const vC = [[peaksC[0], DOT_BLUE], [peaksC[1], DOT_ORANGE], [peaksC[2], DOT_PURPLE], [peaksC[3], DOT_GREEN]];
const rangeC = {xMin: 701.1, xMax: 738.1, xTicks: ticksC, yMin: 0, yMax: 100, vlines: vC};
makeChart({l: 763, r: 1077, t: 51, b: 200}, Object.assign({}, rangeC, {
  datasets: [curve(fe2pFitMBC, RED, 1.6, true), curve(fe2pGreenMBC, GREEN, 1.8, true), curve(fe2pPurpleMBC, PURPLE, 1.5, true),
             curve(fe2pOrangeMBC, ORANGE, 1.5, true), curve(fe2pBlueMBC, BLUE, 1.5, true), curve(fe2pRawMBC, '#000', 1.2)],
  notes: [T(733.4, 89.9, 'Fe2p', 17),
          T(731.1, 71.3, '724.3 eV', 14.5), T(731.1, 60.7, 'Fe(III)', 14.5), AR(725.7, 67.4, 724.5, 67.4, DOT_BLUE),
          T(723.8, 80.9, 'Fe2p_{1/2}', 17),
          AR(715.3, 89.9, 717.3, 89.9, DOT_ORANGE),
          T(717.2, 83.6, '717.5 eV', 14.5), T(717.2, 72.4, 'Fe(III)', 14.5),
          T(717.2, 61.2, '712.4 eV', 14.5), T(717.2, 49.4, 'Fe(III)', 14.5),
          AR(714.1, 42.7, 712.7, 37.1, DOT_PURPLE),
          T(709.1, 80.9, 'Fe2p_{3/2}', 17),
          T(707.6, 51.2, '710.3 eV', 14.5), T(707.6, 39.3, 'Fe(II)', 14.5), AR(707.7, 50.6, 709.5, 50.6, DOT_GREEN),
          T(736.1, 10.6, 'FM-MBC', 17)]
}));
makeChart({l: 763, r: 1077, t: 200, b: 356}, Object.assign({}, rangeC, {
  showX: true, tickY: 368, titleY: 399,
  datasets: [curve(fe2pFitCr, RED, 1.6, true), curve(fe2pGreenCr, GREEN, 1.8, true), curve(fe2pPurpleCr, PURPLE, 1.5, true),
             curve(fe2pOrangeCr, ORANGE, 1.5, true), curve(fe2pBlueCr, BLUE, 1.5, true), curve(fe2pRawCr, '#000', 1.2)],
  notes: [T(736.1, 14.9, 'FM-MBC+Cr', 17)]
}));

// ---------- D ----------
const vD = [[peaksD[0], DOT_BLUE], [peaksD[1], DOT_PURPLE], [peaksD[2], DOT_GREEN]];
const rangeD = {xMin: 632.1, xMax: 660, xTicks: ticksD, yMin: 0, yMax: 100, vlines: vD};
makeChart({l: 32, r: 350, t: 471, b: 627}, Object.assign({}, rangeD, {
  datasets: [curve(mn2pFitMBC, RED, 1.6, true), curve(mn2pGreenMBC, GREEN, 2, true), curve(mn2pPurpleMBC, PURPLE, 1.5, true),
             curve(mn2pBlueMBC, BLUE, 1.5, true), curve(mn2pRawMBC, '#000', 1.2)],
  notes: [T(657.1, 80.6, 'Mn2p', 17), T(651.5, 86.6, 'Mn2p_{1/2}', 17),
          T(650.9, 69.6, '652.9 eV', 15), AR(651.1, 73.8, 652.4, 63.6, DOT_BLUE),
          T(639.4, 86.6, 'Mn2p_{3/2}', 17),
          T(638.7, 72.2, '641.4 eV', 15), T(638.7, 60.7, 'Mn(IV)', 15), AR(638.8, 71.7, 641.1, 65.3, DOT_PURPLE),
          T(638.6, 36.1, '640.3 eV', 15), T(638.6, 24.5, 'Mn(II)(III)', 15), AR(638.7, 36.1, 640.0, 36.1, DOT_GREEN),
          T(659.1, 8.9, 'FM-MBC', 17)]
}));
makeChart({l: 32, r: 350, t: 627, b: 790}, Object.assign({}, rangeD, {
  showX: true, tickY: 807, titleY: 834,
  datasets: [curve(mn2pFitCr, RED, 1.6, true), curve(mn2pGreenCr, GREEN, 2, true), curve(mn2pPurpleCr, PURPLE, 1.5, true),
             curve(mn2pBlueCr, BLUE, 1.5, true), curve(mn2pRawCr, '#444', 1.2)],
  notes: [T(659.1, 9.0, 'FM-MBC+Cr', 17)]
}));

// ---------- E ----------
makeChart({l: 433, r: 714, t: 578, b: 794}, {
  xMin: 700.7, xMax: 738.15, xTicks: ticksEx, yMin: 3310, yMax: 8620, yTicks: ticksEy,
  showX: true, showY: true, yAxisW: 78, yTitle: 'Intensity (a.u. )', yTitleX: 373, tickY: 807, titleY: 834,
  datasets: [curve(fe2pCmpCr, '#0000ff', 1.1), curve(fe2pCmpMBC, '#ff3030', 1.1)],
  notes: [T(733.8, 8082, 'Fe2P', 15.5),
          T(718.6, 7754, '710.3 eV', 15.5), T(708.6, 7139, '710.0 eV', 15.5),
          L(710.5, 7959, 710.5, 7426, '#000', [6, 2, 1.5, 2], 1),
          L(710.1, 7262, 710.1, 6852, '#000', [6, 2, 1.5, 2], 1),
          L(736.4, 4516, 731.9, 4516, '#0000ff', null, 1.5), T(731.2, 4516, 'FM-MBC+Cr', 16),
          L(736.4, 4066, 731.9, 4066, '#ff3030', null, 1.5), T(731.2, 4066, 'FM-MBC', 16)]
});

// ---------- F ----------
makeChart({l: 794, r: 1077, t: 575, b: 795}, {
  xMin: 634.0, xMax: 660, xTicks: ticksFx, yMin: 2420, yMax: 5896, yTicks: ticksFy,
  showX: true, showY: true, yAxisW: 78, yTitle: 'Intensity (a.u.)', yTitleX: 737, tickY: 807, titleY: 834,
  datasets: [curve(mn2pCmpCr, '#0000ff', 1.1), curve(mn2pCmpMBC, '#ff3030', 1.1)],
  notes: [T(657.3, 5605, 'Mn2P', 15.5),
          T(648.9, 4700, '641.4 eV', 15.5), T(640.3, 4842, '641.1 eV', 15.5),
          L(642.8, 5342, 642.8, 4658, '#000', [6, 2, 1.5, 2], 1),
          L(642.5, 5563, 642.5, 4842, '#000', [6, 2, 1.5, 2], 1),
          L(659.0, 2958, 655.8, 2958, '#0000ff', null, 1.5), T(655.5, 2958, 'FM-MBC+Cr', 16),
          L(659.0, 2658, 655.8, 2658, '#ff3030', null, 1.5), T(655.5, 2658, 'FM-MBC', 16)]
});
</script>
</body>
</html>
